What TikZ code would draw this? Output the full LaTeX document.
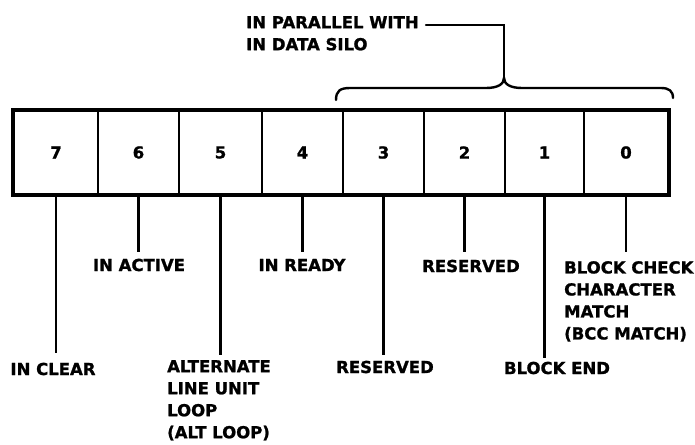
\documentclass[tikz,border=0pt]{standalone}
\usepackage{fontspec}
\setmainfont{DejaVu Sans}
\newfontfamily\heavyfont{DejaVu Sans Bold}[FakeBold=1.2]
\begin{document}
\begin{tikzpicture}[x=1pt,y=-1pt,
  lbl/.style={font=\heavyfont\fontsize{16.5}{22.5}\selectfont, inner sep=0pt},
  multilbl/.style={lbl, font=\heavyfont\fontsize{16.5}{22}\selectfont, align=left, anchor=north west},
  cell/.style={draw, line width=2.6pt, minimum height=83pt, inner sep=0pt,
    font=\heavyfont\fontsize{16.5}{18}\selectfont},
  lead/.style={line width=2.6pt},
  bracestyle/.style={line width=2.4pt, line cap=round}]
\useasboundingbox (0,0) rectangle (695,444);
% cells
\node[cell, minimum width=84pt] (c7) at (56,152.5) {7};
\node[cell, minimum width=81pt] (c6) at (138.5,152.5) {6};
\node[cell, minimum width=83pt] (c5) at (220.5,152.5) {5};
\node[cell, minimum width=81pt] (c4) at (302.5,152.5) {4};
\node[cell, minimum width=81pt] (c3) at (383.5,152.5) {3};
\node[cell, minimum width=81pt] (c2) at (464.5,152.5) {2};
\node[cell, minimum width=79pt] (c1) at (544.5,152.5) {1};
\node[cell, minimum width=84pt] (c0) at (626,152.5) {0};
\draw[line width=3.6pt] (c7.north west) rectangle (c0.south east);
% labels
\node[lbl] (l7) at (53,369) {IN CLEAR};
\node[lbl] (l6) at (139,265) {IN ACTIVE};
\node[multilbl] (l5) at (167,360) {ALTERNATE\\LINE UNIT\\LOOP\\(ALT LOOP)};
\node[lbl] (l4) at (302,265) {IN READY};
\node[lbl] (l3) at (385,367) {RESERVED};
\node[lbl] (l2) at (471,266) {RESERVED};
\node[lbl] (l1) at (557,368) {BLOCK END};
\node[multilbl] (l0) at (564,261) {BLOCK CHECK\\CHARACTER\\MATCH\\(BCC MATCH)};
% leaders
\draw[lead, shorten >=10pt] (c7.south) -- (c7.south |- l7.north);
\draw[lead, shorten >=7pt] (c6.south) -- (c6.south |- l6.north);
\draw[lead, shorten >=5pt] (c5.south) -- (c5.south |- l5.north);
\draw[lead, shorten >=7pt] (c4.south) -- (c4.south |- l4.north);
\draw[lead, shorten >=6pt] (c3.south) -- (c3.south |- l3.north);
\draw[lead, shorten >=8pt] (c2.south) -- (c2.south |- l2.north);
\draw[lead, shorten >=4pt] (c1.south) -- (c1.south |- l1.north);
\draw[lead, shorten >=9pt] (c0.south) -- (c0.south |- l0.north);
% top label and brace
\node[multilbl] (top) at (246,16) {IN PARALLEL WITH\\IN DATA SILO};
\coordinate (lead) at (426,25);
\coordinate (tip) at (504,78);
\draw[bracestyle] (lead) -| (tip);
\draw[bracestyle] (336,100) .. controls (336,91) and (340,88) .. (350,88)
  -- (486,88) .. controls (498,88) and (504,84) .. (tip)
  .. controls (504,84) and (510,88) .. (522,88)
  -- (661,88) .. controls (669,88) and (673,91) .. (673,98);
\end{tikzpicture}
\end{document}
